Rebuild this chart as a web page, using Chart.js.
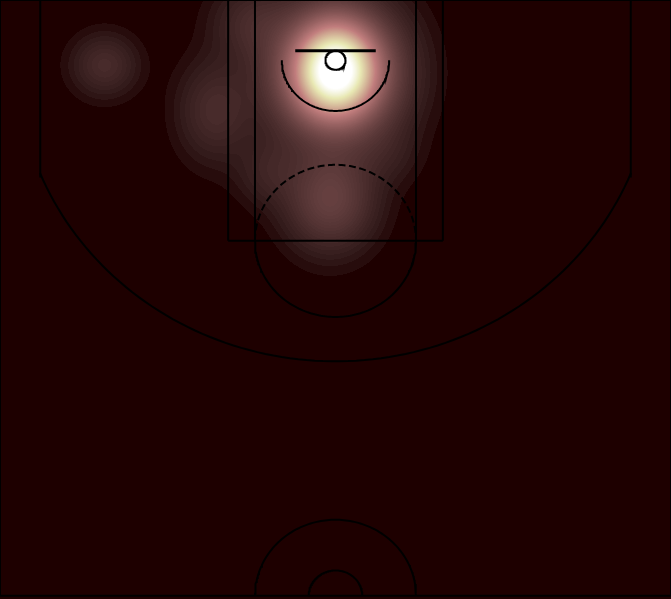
<!DOCTYPE html>
<html>
<head>
<meta charset="utf-8">
<script src="https://cdn.jsdelivr.net/npm/chart.js@4.4.1/dist/chart.umd.min.js"></script>
<style>
html,body{margin:0;padding:0;background:#1e0000;}
#wrap{width:671px;height:599px;position:relative;}
</style>
</head>
<body>
<div id="wrap"><canvas id="c" width="671" height="599"></canvas></div>
<script>
// ---- Shot density hotspots (court units = tenths of a foot, hoop at 0,0) ----
const zoneNames   = ['Rim', 'Rim area', 'Paint / free-throw', 'Left lane', 'Left block top', 'Left wing', 'Lane bridge', 'Right short'];
const zoneX       = [0,    0,    -4,    -90,   -62,   -172,  -50,   40];
const zoneY       = [8,    10,   110,   40,    -30,   4,     88,    75];
const zoneDensity = [1.0,  0.24, 0.09,  0.042, 0.035, 0.042, 0.025, 0.012];
const zoneSpreadX = [17,   30,   21,    18,    20,    16,    16,    16];
const zoneSpreadY = [20,   34,   25,    26,    20,    16,    18,    16];
const densityLevels = 200;

// ---- Court geometry (court units) ----
const courtXRange = [-250, 250];
const courtYRange = [-47.5, 425];
// straight segments: [x1, y1, x2, y2, kind]
const courtSegments = [
  [-250, -47.5, 250, -47.5, 'line'],   // baseline
  [-250, -47.5, -250, 422.5, 'line'],  // sideline L
  [250, -47.5, 250, 422.5, 'line'],    // sideline R
  [-250, 422.5, 250, 422.5, 'line'],   // half court
  [-30, -7.5, 30, -7.5, 'board'],      // backboard
  [-80, -47.5, -80, 142.5, 'line'],    // outer paint
  [80, -47.5, 80, 142.5, 'line'],
  [-60, -47.5, -60, 142.5, 'line'],    // inner paint
  [60, -47.5, 60, 142.5, 'line'],
  [-80, 142.5, 80, 142.5, 'line'],     // free throw line
  [-220, -47.5, -220, 92.5, 'line'],   // corner threes
  [220, -47.5, 220, 92.5, 'line']
];
// arcs: [cx, cy, radius, startDeg, endDeg, kind]
const courtArcs = [
  [0, 0, 7.5, 0, 360, 'line'],          // hoop
  [0, 0, 40, 0, 180, 'line'],           // restricted area
  [0, 142.5, 60, 0, 180, 'line'],       // free throw circle (bottom, solid)
  [0, 142.5, 60, 180, 360, 'dash'],     // free throw circle (top, dashed)
  [0, 0, 237.5, 22, 158, 'line'],       // three point arc
  [0, 422.5, 60, 180, 360, 'line'],     // center circle outer
  [0, 422.5, 20, 180, 360, 'line']      // center circle inner
];

// ---- matplotlib "pink" colormap ----
function pinkEntry(i) {
  const g = i / 63;
  const hr = Math.min(1, (i + 1) / 24);
  const hg = i < 24 ? 0 : Math.min(1, (i - 23) / 24);
  const hb = i < 48 ? 0 : (i - 47) / 16;
  return [Math.sqrt((2 * g + hr) / 3), Math.sqrt((2 * g + hg) / 3), Math.sqrt((2 * g + hb) / 3)];
}
const pinkTable = Array.from({length: 64}, (_, i) => pinkEntry(i));
function pink(t) {
  t = Math.max(0, Math.min(1, t));
  const f = t * 63, i0 = Math.floor(f), i1 = Math.min(63, i0 + 1), w = f - i0;
  const a = pinkTable[i0], b = pinkTable[i1];
  return [0, 1, 2].map(k => Math.round(255 * (a[k] + (b[k] - a[k]) * w)));
}

function density(ux, uy) {
  let t = 0;
  for (let k = 0; k < zoneX.length; k++) {
    const dx = (ux - zoneX[k]) / zoneSpreadX[k];
    const dy = (uy - zoneY[k]) / zoneSpreadY[k];
    t += zoneDensity[k] * Math.exp(-0.5 * (dx * dx + dy * dy));
  }
  return t;
}

const heatPlugin = {
  id: 'heat',
  beforeDatasetsDraw(chart) {
    const {ctx, scales} = chart;
    const xs = scales.x, ys = scales.y;
    const W = chart.width, H = chart.height;
    const img = ctx.createImageData(W, H);
    const colX = new Float64Array(W);
    for (let i = 0; i < W; i++) colX[i] = xs.getValueForPixel(i + 0.5);
    const palette = [];
    for (let l = 0; l <= densityLevels; l++) palette.push(l === 0 ? pink(0) : pink((l + 0.5) / densityLevels));
    for (let j = 0; j < H; j++) {
      const uy = ys.getValueForPixel(j + 0.5);
      for (let i = 0; i < W; i++) {
        const t = density(colX[i], uy);
        const lvl = Math.min(densityLevels, Math.floor(t * densityLevels));
        const c = palette[lvl];
        const p = (j * W + i) * 4;
        img.data[p] = c[0]; img.data[p + 1] = c[1]; img.data[p + 2] = c[2]; img.data[p + 3] = 255;
      }
    }
    ctx.putImageData(img, 0, 0);
  }
};

function arcPoints(cx, cy, r, s, e) {
  const pts = [];
  const n = Math.max(24, Math.round(Math.abs(e - s) / 1.5));
  for (let i = 0; i <= n; i++) {
    const th = (s + (e - s) * i / n) * Math.PI / 180;
    pts.push({x: cx + r * Math.cos(th), y: cy + r * Math.sin(th)});
  }
  return pts;
}

const styleFor = {
  line:  {borderWidth: 2, borderDash: []},
  board: {borderWidth: 3, borderDash: []},
  dash:  {borderWidth: 2, borderDash: [7, 3.5]}
};

const datasets = [];
courtSegments.forEach(s => {
  datasets.push(Object.assign({
    data: [{x: s[0], y: s[1]}, {x: s[2], y: s[3]}],
    showLine: true, pointRadius: 0, borderColor: '#000', fill: false, tension: 0
  }, styleFor[s[4]]));
});
courtArcs.forEach(a => {
  datasets.push(Object.assign({
    data: arcPoints(a[0], a[1], a[2], a[3], a[4]),
    showLine: true, pointRadius: 0, borderColor: '#000', fill: false, tension: 0
  }, styleFor[a[5]]));
});

new Chart(document.getElementById('c'), {
  type: 'scatter',
  data: {datasets},
  options: {
    responsive: false,
    animation: false,
    events: [],
    layout: {padding: 0},
    plugins: {legend: {display: false}, tooltip: {enabled: false}, title: {display: false}},
    scales: {
      x: {type: 'linear', min: courtXRange[0], max: courtXRange[1], display: false},
      y: {type: 'linear', min: courtYRange[0], max: courtYRange[1], reverse: true, display: false}
    }
  },
  plugins: [heatPlugin]
});
</script>
</body>
</html>
